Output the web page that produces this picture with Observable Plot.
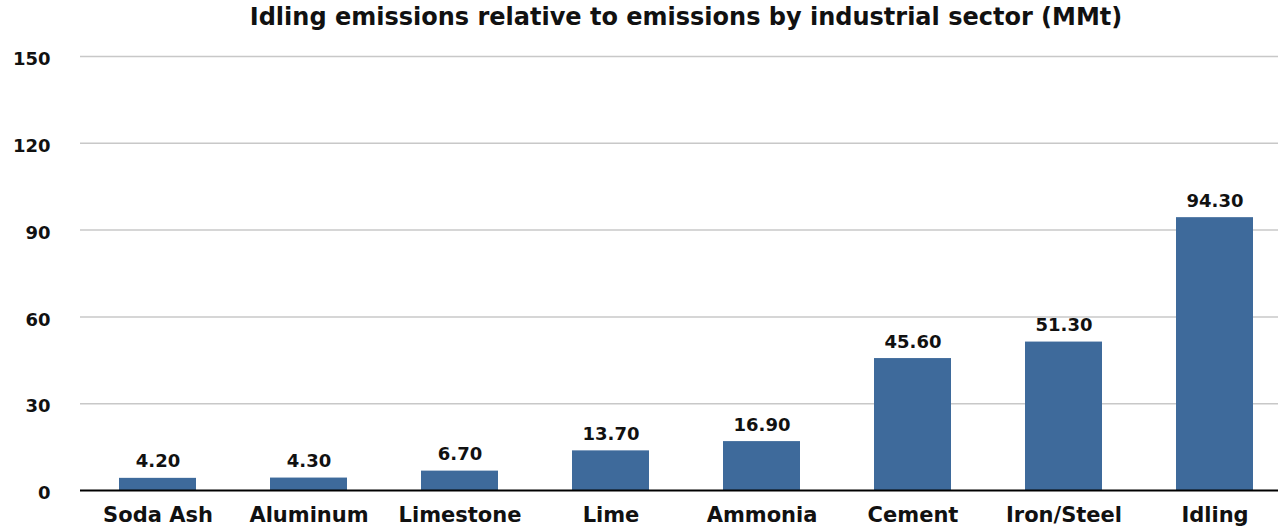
<!DOCTYPE html>
<html><head><meta charset="utf-8">
<script src="https://cdn.jsdelivr.net/npm/d3@7"></script>
<script src="https://cdn.jsdelivr.net/npm/@observablehq/plot@0.6"></script>
<style>
body{margin:0;background:#fff;}
#wrap{position:relative;width:1278px;height:526px;overflow:hidden;}
#title{position:absolute;left:686px;top:3px;transform:translateX(-50%);white-space:nowrap;font-family:"DejaVu Sans",sans-serif;font-weight:bold;font-size:24px;line-height:28px;color:#111;}
#wrap svg{position:absolute;left:0;top:0;}
</style>
</head><body>
<div id="wrap"><div id="title">Idling emissions relative to emissions by industrial sector (MMt)</div></div>
<script>
const sectors = ["Soda Ash","Aluminum","Limestone","Lime","Ammonia","Cement","Iron/Steel","Idling"];
const emissions = [4.2,4.3,6.7,13.7,16.9,45.6,51.3,94.3];
const yTicks = [0,30,60,90,120,150];
const data = sectors.map((s,i)=>({sector:s, value:emissions[i]}));

const chart = Plot.plot({
  width:1278, height:526,
  marginTop:56, marginBottom:36, marginLeft:80, marginRight:0,
  style:{fontFamily:"DejaVu Sans, sans-serif", color:"#111", background:"transparent"},
  x:{domain:sectors, range:[80,1293], paddingInner:0.49, paddingOuter:0.245, axis:null, label:null},
  y:{domain:[0,150], axis:null, label:null},
  marks:[
    Plot.ruleY(yTicks.filter(d=>d>0), {stroke:"#c8c8c8", strokeWidth:1.5}),
    Plot.barY(data,{x:"sector", y:"value", fill:"#3e6a9b"}),
    Plot.ruleY([0],{stroke:"#000", strokeWidth:2}),
    Plot.text(data,{x:"sector", y:"value", text:d=>d.value.toFixed(2), lineAnchor:"bottom", dy:-11, fontWeight:"bold", fontSize:18, fill:"#111"}),
    Plot.axisX({tickSize:0, tickPadding:17, fontWeight:"bold", fontSize:21, fill:"#111", label:null}),
    Plot.axisY({ticks:yTicks, tickSize:0, tickPadding:30, dy:3, fontWeight:"bold", fontSize:18, fill:"#111", label:null})
  ]
});
document.getElementById("wrap").appendChild(chart);
</script>
</body></html>
